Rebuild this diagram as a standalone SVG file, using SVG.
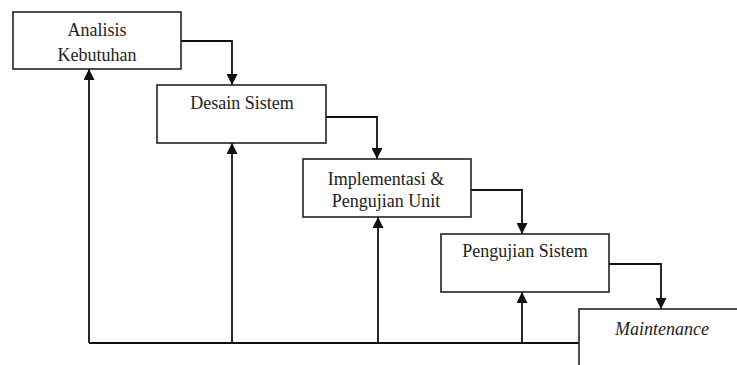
<svg xmlns="http://www.w3.org/2000/svg" width="737" height="365" viewBox="0 0 737 365" font-family="Liberation Serif, Times New Roman, serif">
<style>
.box{fill:#fff;stroke:#222;stroke-width:1.6}
.c{fill:none;stroke:#111;stroke-width:1.8}
.t{font-family:"Liberation Serif",serif;font-size:18px;fill:#222;text-anchor:middle}
.it{font-style:italic}
</style>
<defs>
<marker id="ah" viewBox="0 0 10 10" refX="10" refY="5" markerWidth="12" markerHeight="11" markerUnits="userSpaceOnUse" orient="auto">
<path d="M0,0 L10,5 L0,10 z" fill="#111"/>
</marker>
</defs>
<rect width="737" height="365" fill="#fff"/>
<g id="connectors">
<path class="c" d="M181,41 H232 V85" marker-end="url(#ah)"/>
<path class="c" d="M326,117 H377 V159" marker-end="url(#ah)"/>
<path class="c" d="M471,190 H522 V234" marker-end="url(#ah)"/>
<path class="c" d="M609,264 H661 V309" marker-end="url(#ah)"/>
<path class="c" d="M579,343 H89"/>
<path class="c" d="M89,343 V69" marker-end="url(#ah)"/>
<path class="c" d="M232,343 V143" marker-end="url(#ah)"/>
<path class="c" d="M378,343 V217" marker-end="url(#ah)"/>
<path class="c" d="M522,343 V292" marker-end="url(#ah)"/>
</g>
<g id="analisis">
<rect class="box" x="13" y="12" width="168" height="57"/>
<text class="t" x="97" y="36" font-family="Liberation Serif">Analisis</text>
<text class="t" x="97" y="61" font-family="Liberation Serif">Kebutuhan</text>
</g>
<g id="desain">
<rect class="box" x="157" y="85" width="169" height="58"/>
<text class="t" x="242" y="109" font-family="Liberation Serif">Desain Sistem</text>
</g>
<g id="implementasi">
<rect class="box" x="303" y="159" width="168" height="58"/>
<text class="t" x="386" y="185" font-family="Liberation Serif">Implementasi &amp;</text>
<text class="t" x="386" y="207" font-family="Liberation Serif">Pengujian Unit</text>
</g>
<g id="pengujian">
<rect class="box" x="441" y="234" width="168" height="58"/>
<text class="t" x="525" y="257" font-family="Liberation Serif">Pengujian Sistem</text>
</g>
<g id="maintenance">
<rect class="box" x="579" y="309" width="180" height="80"/>
<text class="t it" x="662" y="335" font-family="Liberation Serif">Maintenance</text>
</g>
</svg>
